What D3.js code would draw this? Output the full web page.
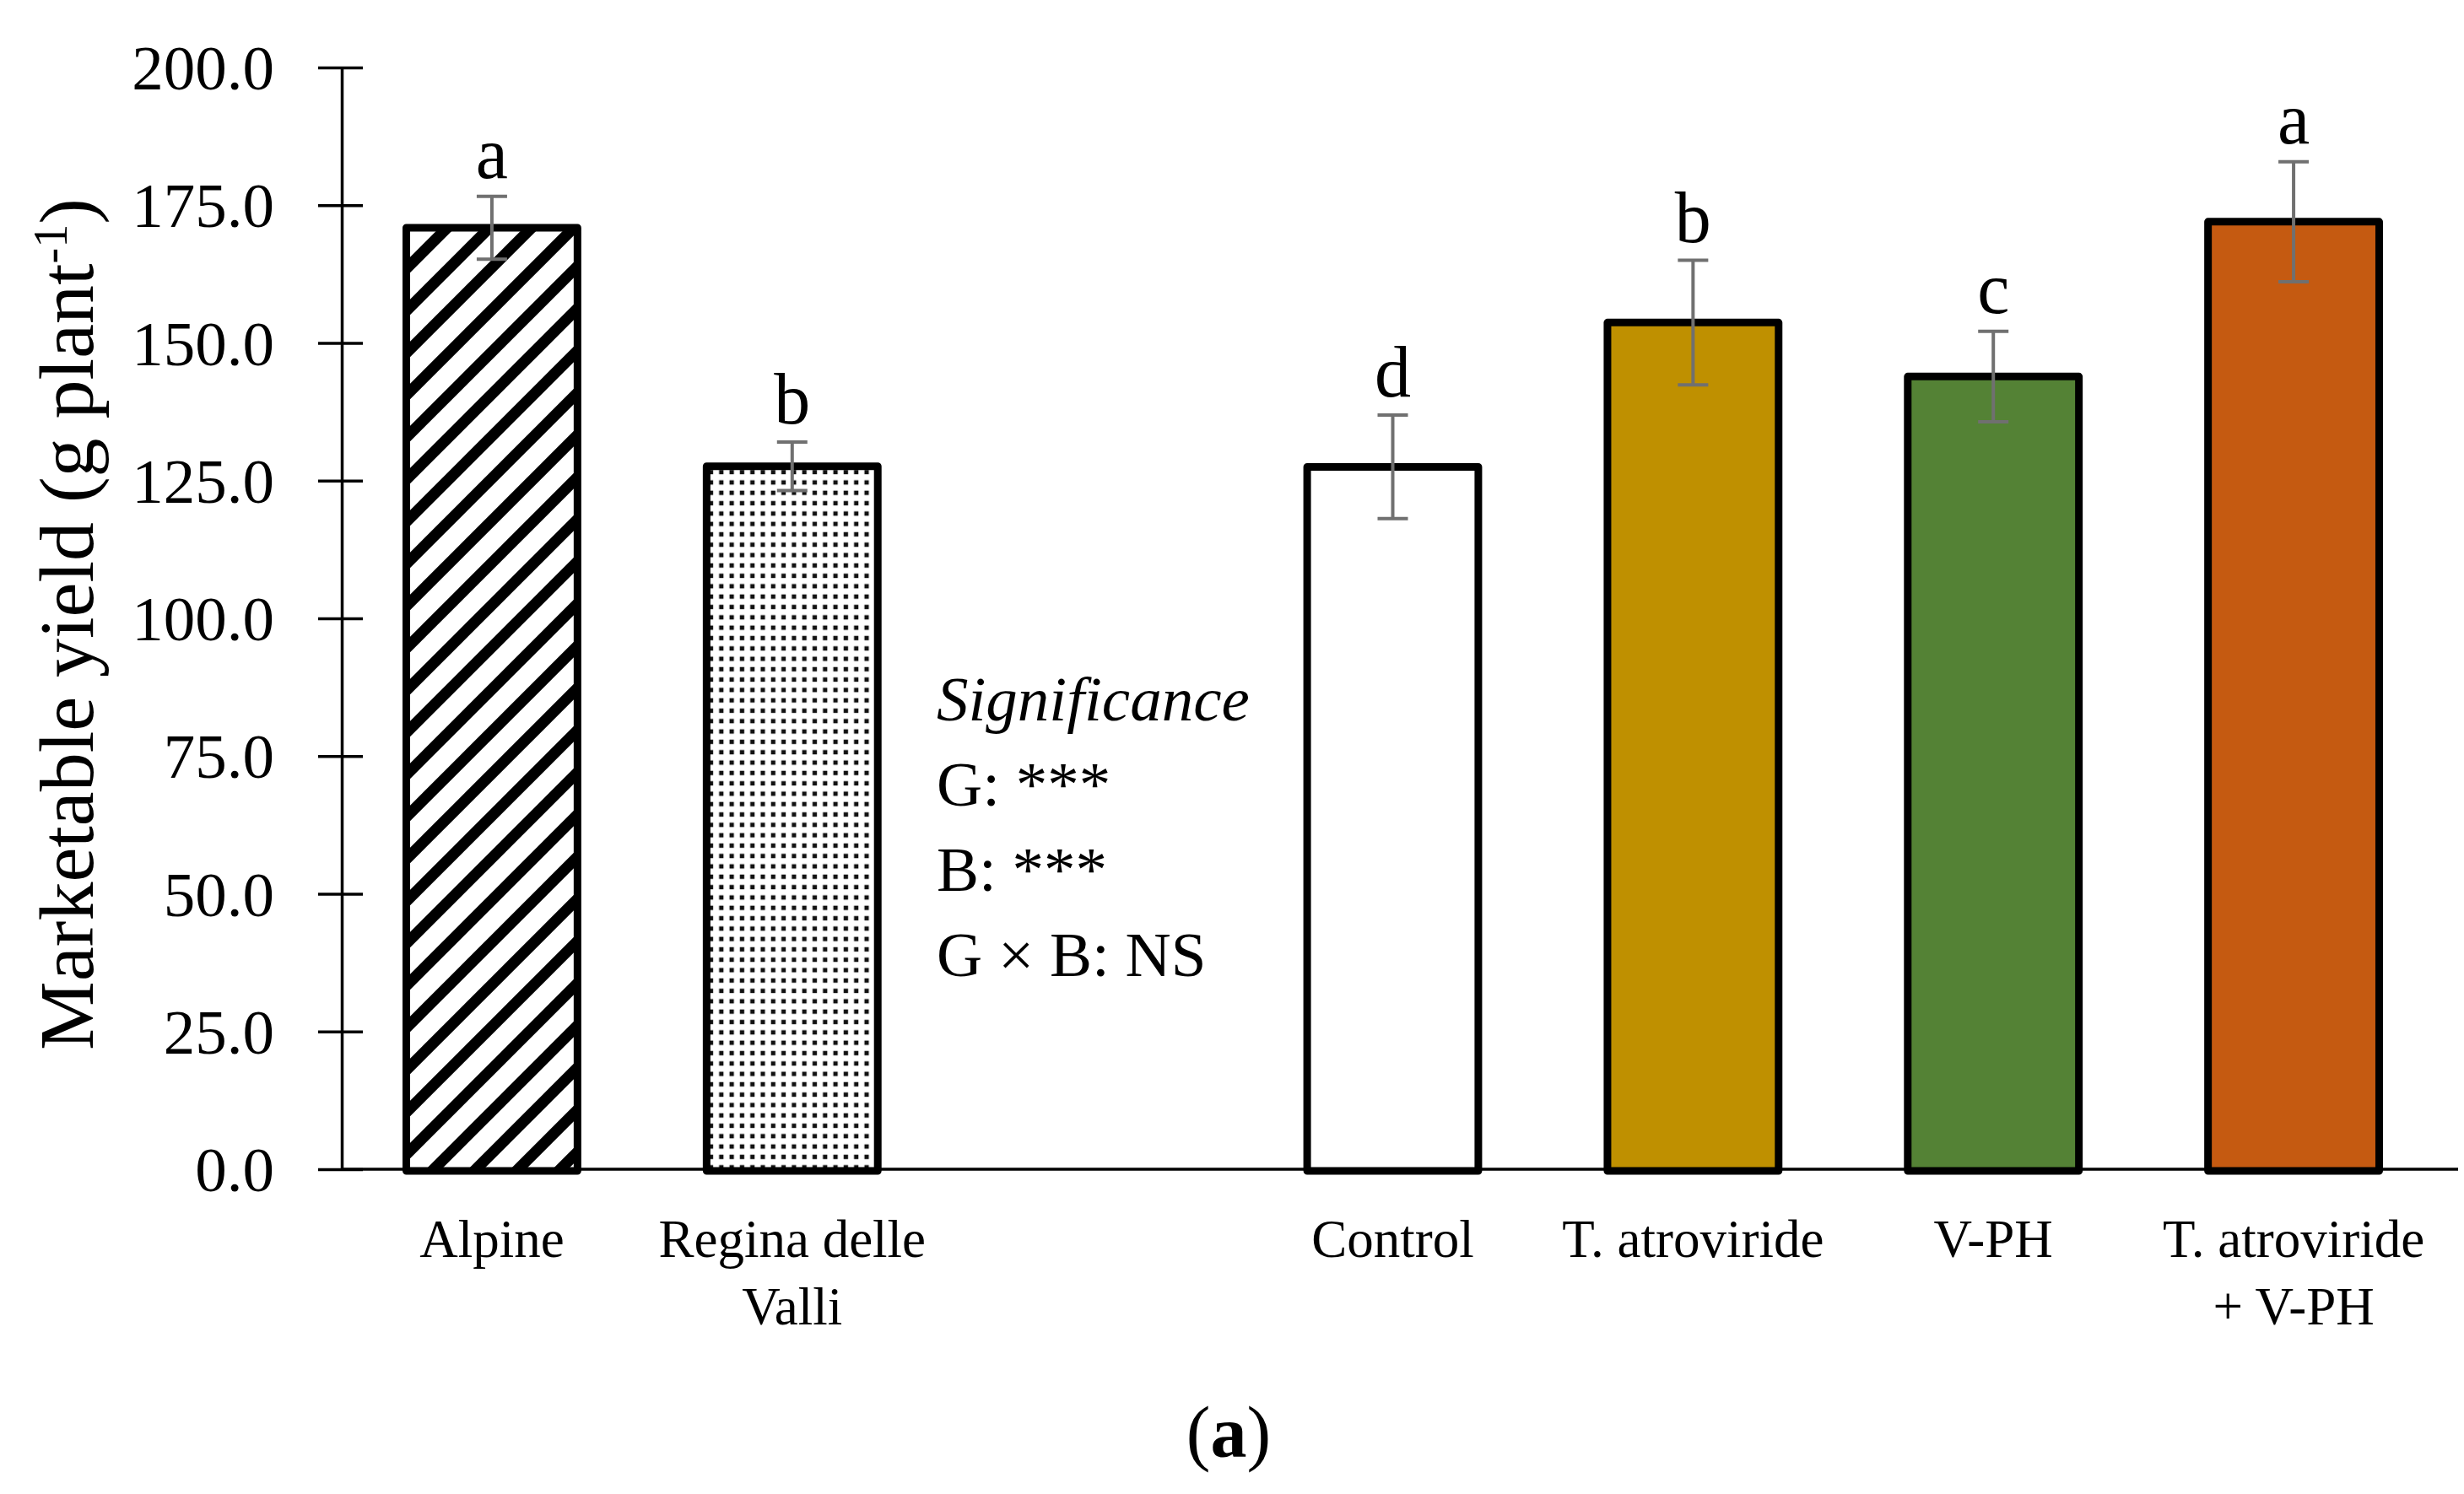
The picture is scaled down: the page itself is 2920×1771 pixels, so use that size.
<!DOCTYPE html>
<html>
<head>
<meta charset="utf-8">
<script src="https://cdn.jsdelivr.net/npm/d3@7"></script>
<style>
  html, body { margin: 0; padding: 0; background: #fff; }
  svg { display: block; font-family: "Liberation Serif", "DejaVu Serif", serif; }
</style>
</head>
<body>
<div id="chart"></div>
<script>
// bar data, left to right
const categories = ["Alpine", "Regina delle Valli", "Control", "T. atroviride", "V-PH", "T. atroviride + V-PH"];
const labelLines = [["Alpine"], ["Regina delle", "Valli"], ["Control"], ["T. atroviride"], ["V-PH"], ["T. atroviride", "+ V-PH"]];
const means = [170.9, 127.6, 127.5, 153.7, 143.9, 172.0];
const errors = [5.7, 4.4, 9.4, 11.3, 8.2, 10.9];
const letters = ["a", "b", "d", "b", "c", "a"];
const slots = ["Alpine", "Regina delle Valli", "_gap", "Control", "T. atroviride", "V-PH", "T. atroviride + V-PH"];
const yTicks = [0, 25, 50, 75, 100, 125, 150, 175, 200];
const sigLines = ["G: ***", "B: ***", "G \u00d7 B: NS"];

const fills = ["url(#hatch)", "url(#dots)", "#ffffff", "#bf9000", "#548235", "#c55a11"];

const width = 2920, height = 1771;
const axisX = 405, axisRight = 2913;

const svg = d3.select("#chart").append("svg")
  .attr("width", width)
  .attr("height", height);

const defs = svg.append("defs");

const hatch = defs.append("pattern")
  .attr("id", "hatch")
  .attr("patternUnits", "userSpaceOnUse")
  .attr("width", 50).attr("height", 50);
hatch.append("rect").attr("width", 50).attr("height", 50).attr("fill", "#fff");
hatch.append("path")
  .attr("d", "M-12.5,12.5L12.5,-12.5M0,50L50,0M37.5,62.5L62.5,37.5")
  .attr("stroke", "#000")
  .attr("stroke-width", 13);

const dots = defs.append("pattern")
  .attr("id", "dots")
  .attr("patternUnits", "userSpaceOnUse")
  .attr("width", 12.3).attr("height", 12.3);
dots.append("rect").attr("width", 12.3).attr("height", 12.3).attr("fill", "#fff");
dots.append("rect").attr("x", 3.5).attr("y", 3.5).attr("width", 5.2).attr("height", 5.2).attr("fill", "#111");

const x = d3.scaleBand()
  .domain(slots)
  .range([axisX, 2896])
  .paddingInner(0.43)
  .paddingOuter(0.215);

const y = d3.scaleLinear()
  .domain([0, 200])
  .range([1386, 80]);

// y axis with crossing ticks
const yAxis = svg.append("g")
  .attr("transform", `translate(${axisX},0)`)
  .call(d3.axisLeft(y).tickValues(yTicks).tickFormat(d3.format(".1f")).tickSizeOuter(0).tickPadding(0));
yAxis.select(".domain").attr("stroke", "#000").attr("stroke-width", 3.5);
yAxis.selectAll(".tick line")
  .attr("x1", -28).attr("x2", 25)
  .attr("stroke", "#000").attr("stroke-width", 3.5);
yAxis.selectAll(".tick text")
  .attr("x", -80)
  .attr("dy", "0.34em")
  .attr("font-size", 75)
  .attr("font-family", "Liberation Serif")
  .attr("fill", "#000");

// bars
const rows = categories.map((c, i) => ({ cat: c, mean: means[i], err: errors[i], letter: letters[i], lines: labelLines[i], fill: fills[i] }));

svg.append("g").selectAll("rect")
  .data(rows)
  .join("rect")
  .attr("x", d => x(d.cat))
  .attr("y", d => y(d.mean))
  .attr("width", x.bandwidth())
  .attr("height", d => y(0) - y(d.mean) + 2)
  .attr("fill", d => d.fill)
  .attr("stroke", "#000")
  .attr("stroke-width", 9)
  .attr("stroke-linejoin", "round");

// x axis baseline
svg.append("line")
  .attr("x1", axisX).attr("x2", axisRight)
  .attr("y1", y(0)).attr("y2", y(0))
  .attr("stroke", "#000").attr("stroke-width", 3.5);

// category labels
const xLabels = svg.append("g")
  .attr("font-size", 63)
  .attr("text-anchor", "middle");
xLabels.selectAll("text")
  .data(rows)
  .join("text")
  .attr("x", d => x(d.cat) + x.bandwidth() / 2)
  .attr("y", 1490)
  .selectAll("tspan")
  .data(d => d.lines.map((t, k) => ({ t, k, cx: x(d.cat) + x.bandwidth() / 2 })))
  .join("tspan")
  .attr("x", d => d.cx)
  .attr("dy", d => d.k === 0 ? 0 : 80)
  .text(d => d.t);

// error bars
const eb = svg.append("g")
  .attr("stroke", "#707070")
  .attr("stroke-width", 4);
rows.forEach(d => {
  const cx = x(d.cat) + x.bandwidth() / 2;
  eb.append("line").attr("x1", cx).attr("x2", cx).attr("y1", y(d.mean - d.err)).attr("y2", y(d.mean + d.err));
  eb.append("line").attr("x1", cx - 18).attr("x2", cx + 18).attr("y1", y(d.mean - d.err)).attr("y2", y(d.mean - d.err));
  eb.append("line").attr("x1", cx - 18).attr("x2", cx + 18).attr("y1", y(d.mean + d.err)).attr("y2", y(d.mean + d.err));
});

// significance letters
svg.append("g")
  .attr("font-size", 86)
  .attr("text-anchor", "middle")
  .selectAll("text")
  .data(rows)
  .join("text")
  .attr("x", d => x(d.cat) + x.bandwidth() / 2)
  .attr("y", d => y(d.mean + d.err) - 22)
  .text(d => d.letter);

// y title
svg.append("text")
  .attr("transform", "translate(110,740) rotate(-90)")
  .attr("text-anchor", "middle")
  .attr("font-size", 92)
  .text("Marketable yield (g plant")
  .call(t => t.append("tspan").attr("baseline-shift", "super").attr("font-size", 56).text("-1"))
  .call(t => t.append("tspan").text(")"));

// significance block
const sig = svg.append("g").attr("font-size", 75);
sig.append("text")
  .attr("x", 1110).attr("y", 854)
  .attr("font-style", "italic")
  .text("Significance");
sig.selectAll("text.line")
  .data(sigLines)
  .join("text")
  .attr("class", "line")
  .attr("x", 1110)
  .attr("y", (d, i) => 955 + i * 101)
  .text(d => d);

// panel tag
svg.append("text")
  .attr("x", 1456).attr("y", 1727)
  .attr("text-anchor", "middle")
  .attr("font-size", 86)
  .text("(")
  .call(t => t.append("tspan").attr("font-weight", "bold").text("a"))
  .call(t => t.append("tspan").text(")"));
</script>
</body>
</html>
